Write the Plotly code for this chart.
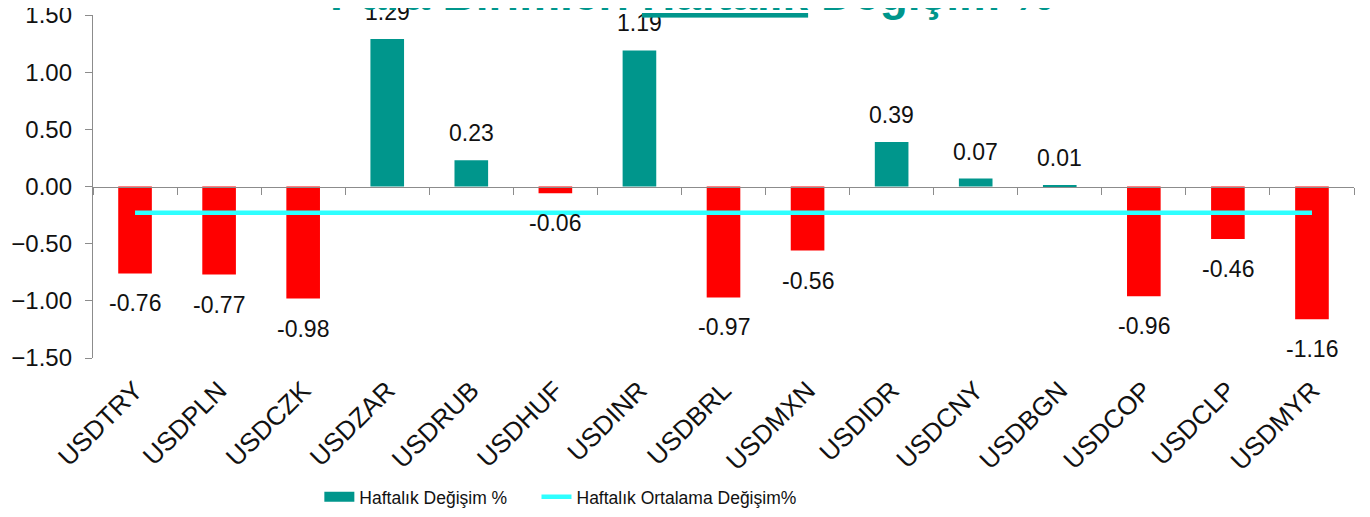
import plotly.graph_objects as go

categories = ["USDTRY", "USDPLN", "USDCZK", "USDZAR", "USDRUB", "USDHUF", "USDINR", "USDBRL",
              "USDMXN", "USDIDR", "USDCNY", "USDBGN", "USDCOP", "USDCLP", "USDMYR"]
weekly_change = [-0.76, -0.77, -0.98, 1.29, 0.23, -0.06, 1.19, -0.97,
                 -0.56, 0.39, 0.07, 0.01, -0.96, -0.46, -1.16]
weekly_avg = [-0.23, -0.23, -0.23, -0.23, -0.23, -0.23, -0.23, -0.23,
              -0.23, -0.23, -0.23, -0.23, -0.23, -0.23, -0.23]

TEAL = "#00968C"
RED = "#FF0000"
CYAN = "#2EFFFF"
FONT = "Arial, Liberation Sans, sans-serif"

bar_colors = [TEAL if v >= 0 else RED for v in weekly_change]
x_range = [-0.5, len(categories) - 0.5]

fig = go.Figure()
fig.add_trace(go.Bar(
    x=categories, y=weekly_change, width=0.4,
    marker=dict(color=bar_colors, line=dict(width=0)),
    showlegend=False, hoverinfo="x+y",
))
# legend entry for the bar series (drawn as a wide teal block)
fig.add_trace(go.Scatter(
    x=[categories[0]], y=[None], mode="lines",
    line=dict(color=TEAL, width=14),
    name="Haftalık Değişim %" + "\u00a0" * 5, showlegend=True,
))
fig.add_trace(go.Scatter(
    x=categories, y=weekly_avg, mode="lines",
    line=dict(color=CYAN, width=4.5),
    name="Haftalık Ortalama Değişim%",
))
# middle x-axis (at y = 0)
fig.add_trace(go.Scatter(x=categories, y=[None] * len(categories), xaxis="x2",
                         showlegend=False, hoverinfo="skip"))

annotations = []
for c, v in zip(categories, weekly_change):
    annotations.append(dict(
        x=c, y=v, xref="x", yref="y", text=f"{v:.2f}", showarrow=False,
        yanchor="bottom" if v >= 0 else "top",
        yshift=12 if v >= 0 else -15,
        font=dict(family=FONT, size=23, color="#111"),
    ))
annotations.append(dict(
    text="<b>Para Birimleri <u>Haftalık</u> Değişim %</b>",
    xref="paper", yref="paper", x=0.475, y=1.0, xanchor="center", yanchor="bottom",
    yshift=-7, showarrow=False, font=dict(family=FONT, size=46, color=TEAL),
))

fig.update_layout(
    width=1362, height=509,
    margin=dict(l=85, r=16, t=7, b=159, autoexpand=False),
    paper_bgcolor="white", plot_bgcolor="white",
    barmode="overlay",
    font=dict(family=FONT, color="#111"),
    legend=dict(orientation="h", x=0.1795, y=-0.405, xanchor="left", yanchor="middle",
                font=dict(family=FONT, size=17.5, color="#111"),
                tracegroupgap=0),
    annotations=annotations,
    xaxis=dict(
        type="category", range=x_range, showgrid=False, showline=False, ticks="",
        automargin=False, tickangle=-45, ticklabelstandoff=11,
        tickfont=dict(family=FONT, size=26, color="#111"),
        zeroline=False,
    ),
    xaxis2=dict(
        type="category", overlaying="x", anchor="free", position=0.5, side="bottom",
        matches="x", showgrid=False, showline=True, linecolor="#8c8c8c", linewidth=1.3,
        ticks="outside", ticklen=7, tickcolor="#8c8c8c", tickwidth=1.3, automargin=False,
        tickson="boundaries", showticklabels=False,
    ),
    yaxis=dict(
        range=[-1.5, 1.5], dtick=0.5, tickformat=".2f", showgrid=False, automargin=False,
        zeroline=False, showline=True, linecolor="#8c8c8c", linewidth=1.3,
        ticks="outside", ticklen=7, tickcolor="#8c8c8c", tickwidth=1.3,
        ticklabelstandoff=8, ticklabeloverflow="allow",
        tickfont=dict(family=FONT, size=24, color="#111"),
    ),
)

fig.write_html("out.html")
